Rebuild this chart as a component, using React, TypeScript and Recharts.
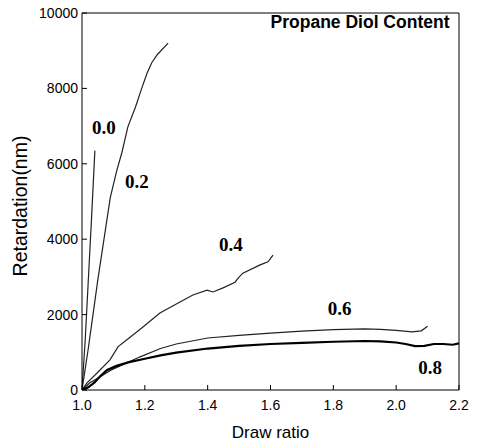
import { LineChart, Line, XAxis, YAxis, ReferenceLine, ReferenceDot } from 'recharts';

// draw ratio / retardation (nm) pairs
const pd00 = [
  { x: 1.0, y: 0 }, { x: 1.01, y: 1300 }, { x: 1.02, y: 2900 }, { x: 1.03, y: 4500 }, { x: 1.041, y: 6350 },
];
const pd02 = [
  { x: 1.0, y: 0 }, { x: 1.02, y: 1100 }, { x: 1.035, y: 2000 }, { x: 1.05, y: 2900 }, { x: 1.07, y: 4000 },
  { x: 1.09, y: 5100 }, { x: 1.11, y: 5800 }, { x: 1.127, y: 6300 }, { x: 1.146, y: 6980 }, { x: 1.17, y: 7500 },
  { x: 1.19, y: 8000 }, { x: 1.207, y: 8400 }, { x: 1.222, y: 8680 }, { x: 1.24, y: 8900 }, { x: 1.274, y: 9200 },
];
const pd04 = [
  { x: 1.0, y: 0 }, { x: 1.016, y: 190 }, { x: 1.048, y: 450 }, { x: 1.089, y: 800 }, { x: 1.115, y: 1150 },
  { x: 1.153, y: 1400 }, { x: 1.194, y: 1670 }, { x: 1.248, y: 2040 }, { x: 1.306, y: 2310 }, { x: 1.353, y: 2520 },
  { x: 1.398, y: 2650 }, { x: 1.417, y: 2600 }, { x: 1.449, y: 2710 }, { x: 1.487, y: 2860 }, { x: 1.497, y: 2970 },
  { x: 1.512, y: 3100 }, { x: 1.567, y: 3320 }, { x: 1.592, y: 3400 }, { x: 1.608, y: 3580 },
];
const pd06 = [
  { x: 1.0, y: 0 }, { x: 1.025, y: 190 }, { x: 1.057, y: 345 }, { x: 1.09, y: 520 }, { x: 1.111, y: 600 },
  { x: 1.15, y: 750 }, { x: 1.185, y: 880 }, { x: 1.25, y: 1100 }, { x: 1.3, y: 1220 }, { x: 1.4, y: 1380 },
  { x: 1.5, y: 1450 }, { x: 1.6, y: 1510 }, { x: 1.7, y: 1560 }, { x: 1.8, y: 1600 }, { x: 1.9, y: 1620 },
  { x: 1.95, y: 1610 }, { x: 2.0, y: 1580 }, { x: 2.05, y: 1540 }, { x: 2.08, y: 1570 }, { x: 2.1, y: 1690 },
];
const pd08 = [
  { x: 1.0, y: 0 }, { x: 1.02, y: 70 }, { x: 1.04, y: 200 }, { x: 1.057, y: 360 }, { x: 1.08, y: 530 },
  { x: 1.11, y: 640 }, { x: 1.15, y: 740 }, { x: 1.2, y: 830 }, { x: 1.25, y: 920 }, { x: 1.3, y: 990 },
  { x: 1.4, y: 1100 }, { x: 1.5, y: 1170 }, { x: 1.6, y: 1220 }, { x: 1.7, y: 1250 }, { x: 1.8, y: 1280 },
  { x: 1.9, y: 1300 }, { x: 1.95, y: 1290 }, { x: 2.0, y: 1260 }, { x: 2.03, y: 1220 }, { x: 2.06, y: 1165 },
  { x: 2.09, y: 1170 }, { x: 2.12, y: 1220 }, { x: 2.15, y: 1220 }, { x: 2.18, y: 1200 }, { x: 2.2, y: 1240 },
];

const xTicks = [1.0, 1.2, 1.4, 1.6, 1.8, 2.0, 2.2];
const yTicks = [0, 2000, 4000, 6000, 8000, 10000];

// curve labels, placed in data coordinates
const curveLabels = [
  { text: '0.0', x: 1.07, y: 6950 },
  { text: '0.2', x: 1.175, y: 5540 },
  { text: '0.4', x: 1.474, y: 3850 },
  { text: '0.6', x: 1.82, y: 2160 },
  { text: '0.8', x: 2.108, y: 600 },
];

const sans = '"Liberation Sans", Arial, sans-serif';
const serif = '"Liberation Serif", "Times New Roman", serif';

const XTick = ({ x, y, payload }: any) => (
  <g>
    <line x1={x} y1={y} x2={x} y2={y - 5} stroke="#000" />
    <text x={x} y={y + 20} textAnchor="middle" fontFamily={sans} fontSize={14} fill="#000">
      {Number(payload.value).toFixed(1)}
    </text>
  </g>
);

const YTick = ({ x, y, payload }: any) => (
  <g>
    <line x1={x} y1={y} x2={x + 5} y2={y} stroke="#000" />
    <text x={x - 4} y={y + 5} textAnchor="end" fontFamily={sans} fontSize={14} fill="#000">
      {payload.value}
    </text>
  </g>
);

const YLabel = () => (
  <text
    x={20}
    y={206}
    transform="rotate(-90 20 206)"
    textAnchor="middle"
    dominantBaseline="central"
    fontFamily={sans}
    fontSize={19.5}
    fill="#000"
  >
    Retardation(nm)
  </text>
);

export default function App() {
  return (
    <div style={{ width: 479, height: 442, background: '#fff' }}>
      <style>{'body{margin:0}'}</style>
      <LineChart width={479} height={442} margin={{ top: 13, right: 20, bottom: 0, left: 0 }}>
        <XAxis
          type="number"
          dataKey="x"
          domain={[1, 2.2]}
          ticks={xTicks}
          height={52}
          tickSize={0}
          tickMargin={0}
          tickLine={false}
          tick={<XTick />}
          axisLine={{ stroke: '#000' }}
          allowDataOverflow
          label={{ value: 'Draw ratio', position: 'insideBottom', offset: 4, fontFamily: sans, fontSize: 17, fill: '#000' }}
        />
        <YAxis
          type="number"
          dataKey="y"
          domain={[0, 10000]}
          ticks={yTicks}
          width={82}
          tickSize={0}
          tickMargin={0}
          tickLine={false}
          tick={<YTick />}
          axisLine={{ stroke: '#000' }}
          allowDataOverflow
          label={<YLabel />}
        />
        <ReferenceLine y={10000} stroke="#000" />
        <ReferenceLine x={2.2} stroke="#000" />
        <Line data={pd00} dataKey="y" stroke="#222" strokeWidth={1.2} dot={false} isAnimationActive={false} />
        <Line data={pd02} dataKey="y" stroke="#222" strokeWidth={1.2} dot={false} isAnimationActive={false} />
        <Line data={pd04} dataKey="y" stroke="#222" strokeWidth={1.2} dot={false} isAnimationActive={false} />
        <Line data={pd06} dataKey="y" stroke="#222" strokeWidth={1.2} dot={false} isAnimationActive={false} />
        <Line data={pd08} dataKey="y" stroke="#000" strokeWidth={2.2} dot={false} isAnimationActive={false} />
        {curveLabels.map((l) => (
          <ReferenceDot
            key={l.text}
            x={l.x}
            y={l.y}
            r={0}
            shape={(p: any) => (
              <text x={p.cx} y={p.cy} textAnchor="middle" dominantBaseline="central" fontFamily={serif} fontWeight="bold" fontSize={19} fill="#000">
                {l.text}
              </text>
            )}
          />
        ))}
        <ReferenceDot
          x={1.885}
          y={9750}
          r={0}
          shape={(p: any) => (
            <text x={p.cx} y={p.cy} textAnchor="middle" dominantBaseline="central" fontFamily={sans} fontWeight="bold" fontSize={17.5} fill="#000">
              Propane Diol Content
            </text>
          )}
        />
      </LineChart>
    </div>
  );
}
